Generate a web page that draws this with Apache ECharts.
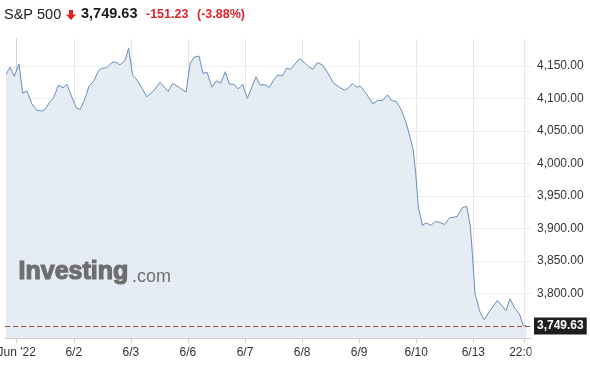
<!DOCTYPE html>
<html>
<head>
<meta charset="utf-8">
<script src="https://cdn.jsdelivr.net/npm/echarts@6/dist/echarts.min.js"></script>
<style>
html,body{margin:0;padding:0;background:#fff;}
#c{width:590px;height:373px;}
</style>
</head>
<body>
<div id="c"></div>
<script>
// x position in trading days since Jun 1 open (0 = Jun 1, 1 = 6/2, ... 8 = 6/13)
const dayPos = [-0.187,-0.117,-0.042,0.040,0.105,0.180,0.263,0.350,0.438,0.496,0.583,0.641,0.732,0.811,0.881,0.964,
1.044,1.114,1.197,1.267,1.354,1.430,1.489,1.577,1.664,1.722,1.810,1.897,1.962,
2.029,2.108,2.190,2.278,2.393,2.511,2.651,2.733,2.852,2.966,
3.041,3.111,3.194,3.264,3.334,3.422,3.497,3.574,3.655,3.725,3.810,3.882,3.959,
4.040,4.192,4.262,4.350,4.425,4.502,4.574,4.657,4.727,4.797,4.954,
5.042,5.109,5.191,5.270,5.357,5.445,5.555,5.664,5.743,5.804,5.883,5.957,
6.028,6.111,6.239,6.321,6.414,6.496,6.570,6.650,6.729,6.817,6.890,6.948,6.990,
7.036,7.109,7.171,7.253,7.341,7.416,7.498,7.579,7.714,7.805,7.884,7.947,7.985,
8.029,8.117,8.192,8.292,8.420,8.572,8.642,8.730,8.806,8.876,8.935];
const price = [4137.2,4148.0,4134.1,4153.1,4108.3,4111.4,4092.4,4082.1,4080.6,4083.2,4095.2,4100.2,4120.7,4116.5,4121.8,4102.6,
4085.6,4083.2,4100.2,4119.1,4127.3,4142.7,4146.5,4147.4,4155.1,4156.6,4152.0,4158.8,4177.3,
4136.6,4128.4,4116.8,4102.6,4111.4,4124.8,4111.0,4123.3,4116.8,4109.9,
4154.6,4163.9,4165.4,4138.7,4140.4,4117.6,4127.3,4123.8,4141.2,4122.2,4121.8,4114.8,4121.8,
4100.2,4133.5,4121.1,4121.1,4117.1,4128.4,4136.1,4135.0,4146.9,4144.9,4161.3,
4155.4,4149.5,4145.1,4155.7,4151.5,4140.0,4123.3,4116.8,4113.0,4115.6,4123.3,4117.6,
4118.7,4109.1,4091.8,4097.1,4097.1,4105.7,4096.8,4095.5,4084.1,4064.0,4040.9,4020.4,3984.4,
3932.9,3904.6,3908.5,3904.6,3910.5,3909.0,3905.9,3915.9,3918.1,3931.6,3934.0,3903.4,3858.3,
3799.2,3770.8,3759.1,3773.5,3788.9,3773.5,3791.5,3776.1,3768.4,3750.3,3749.63];

const xTickVals = [0,1,2,3,4,5,6,7,8,8.89];
const xTickLabels = ["Jun '22","6/2","6/3","6/6","6/7","6/8","6/9","6/10","6/13","22:00"];
const yTickVals = [3800,3850,3900,3950,4000,4050,4100,4150];
const lastPrice = 3749.63;
const changeText = "-151.23";
const changePctText = "(-3.88%)";
const titleText = "S&P 500";

const fmt = v => v.toLocaleString('en-US',{minimumFractionDigits:2,maximumFractionDigits:2});

const chart = echarts.init(document.getElementById('c'), null, {renderer:'canvas'});
const FONT = '"Liberation Sans", Arial, sans-serif';
chart.setOption({
  animation:false,
  backgroundColor:'#fff',
  textStyle:{fontFamily:FONT},
  grid:{left:5,right:59,top:39,bottom:35,containLabel:false,outerBoundsMode:'none'},
  xAxis:{
    type:'value', min:-0.205, max:9.01,
    axisLine:{show:true,lineStyle:{color:'#cfcfcf'}},
    axisTick:{show:true,customValues:xTickVals,length:5,lineStyle:{color:'#cfcfcf'}},
    axisLabel:{customValues:xTickVals,color:'#333',fontSize:12,fontFamily:FONT,margin:9,hideOverlap:false,
      formatter:v=>{const i=xTickVals.findIndex(t=>Math.abs(t-v)<1e-6);return i>=0?xTickLabels[i]:'';}},
    splitLine:{show:true,lineStyle:{color:'#e4e7eb',width:1}}
  },
  yAxis:{
    type:'value', position:'right', min:3731, max:4191.7, scale:true,
    axisLine:{show:true,lineStyle:{color:'#cfcfcf'}},
    axisTick:{show:false,customValues:yTickVals},
    axisLabel:{customValues:yTickVals,color:'#333',fontSize:12,fontFamily:FONT,margin:6,formatter:v=>fmt(v)},
    splitLine:{show:true,lineStyle:{color:'#eceef1',width:1}}
  },
  series:[{
    type:'line',
    data: dayPos.map((d,i)=>[d,price[i]]),
    symbol:'none',
    lineStyle:{color:'#6a8fb8',width:1},
    areaStyle:{color:'#e6ecf4',opacity:1},
    markLine:{
      silent:true, symbol:'none',
      data:[{yAxis:lastPrice}],
      lineStyle:{color:'#a84848',type:[5,3],width:1},
      label:{show:true,position:'end',distance:3,formatter:fmt(lastPrice),color:'#fff',fontWeight:'bold',
        fontSize:12,fontFamily:FONT,backgroundColor:'#1e1e1e',padding:[3,3,2,3]}
    }
  }],
  graphic:[
    {type:'rect',z:100,shape:{x:531.5,y:338.5,width:60,height:35},style:{fill:'#fff'}},
    {type:'text',left:4,top:7,style:{text:titleText,font:'14.5px '+FONT,fill:'#222'}},
    {type:'polygon',shape:{points:[[69,10],[73,10],[73,14.5],[76,14.5],[71,20],[66,14.5],[69,14.5]]},style:{fill:'#e02020'}},
    {type:'text',left:81,top:6,style:{text:fmt(lastPrice),font:'bold 14.5px '+FONT,fill:'#1a1a1a'}},
    {type:'text',left:146,top:8,style:{text:changeText,font:'bold 12.5px '+FONT,fill:'#e0202a'}},
    {type:'text',left:197,top:8,style:{text:changePctText,font:'bold 12.5px '+FONT,fill:'#e0202a'}},
    {type:'text',z:5,left:18,top:259,style:{text:'Investing',font:'bold 25px '+FONT,fill:'#6e6e6e',stroke:'#6e6e6e',lineWidth:1.2}},
    {type:'text',z:5,left:132,top:268,style:{text:'.com',font:'18px '+FONT,fill:'#6e6e6e'}}
  ]
});
</script>
</body>
</html>
